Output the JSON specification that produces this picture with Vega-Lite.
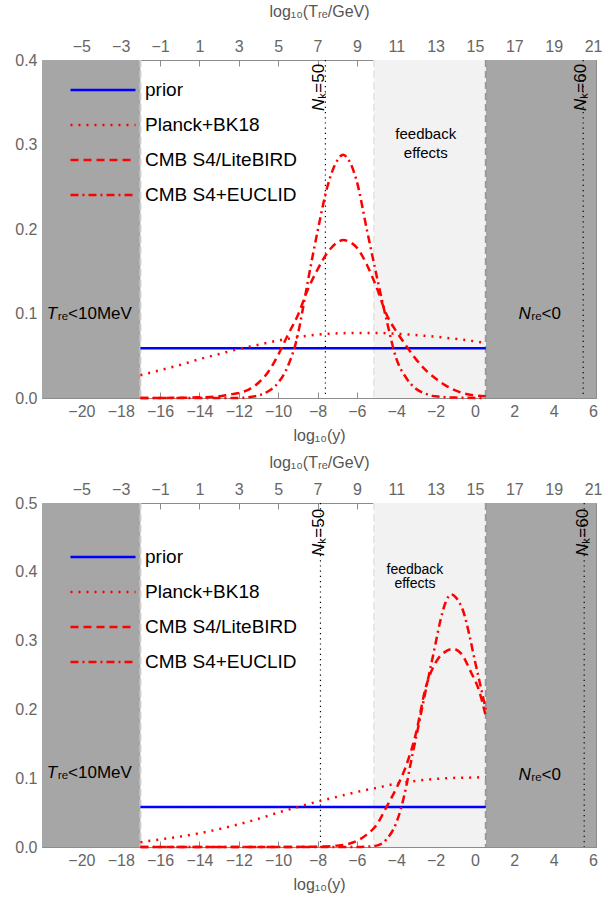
{
  "$schema": "https://vega.github.io/schema/vega-lite/v6.json",
  "padding": {"left": 14, "top": 2, "right": 0, "bottom": 0},
  "config": {
    "font": "Liberation Sans",
    "view": {"stroke": "#8c8c8c", "strokeWidth": 1},
    "axis": {"labelFont": "Liberation Sans", "labelFontSize": 16, "labelColor": "#666666", "titleFont": "Liberation Sans", "titleFontSize": 16, "titleColor": "#555555", "titleFontWeight": "normal", "domain": false, "tickColor": "#8c8c8c", "grid": false, "labelFlush": false, "labelOverlap": false},
    "legend": {"title": null, "symbolType": "stroke", "symbolSize": 4225, "symbolStrokeWidth": 2.5, "labelFontSize": 19, "labelFont": "Liberation Sans", "labelColor": "#000000", "labelOffset": 8, "rowPadding": 0, "clipHeight": 35, "padding": 0, "offset": 0}
  },
  "datasets": {
    "regions1": [{"k": "dark", "x": -22, "x2": -17}, {"k": "light", "x": -5.14, "x2": 0.55}, {"k": "dark", "x": 0.55, "x2": 6.15}],
    "bounds1": [{"k": "left", "x": -17}, {"k": "right", "x": 0.55}, {"k": "light", "x": -5.14}],
    "nk1": [{"x": -7.6}, {"x": 5.5}],
    "ax1": [{"T": -7, "p": 0}, {"T": 21.15, "p": 0.4}],
    "ann1": [
      {"k": "fb", "x": -2.5, "p": 0.312, "t": "feedback"},
      {"k": "fb", "x": -2.5, "p": 0.29, "t": "effects"}
    ],
    "lab1": [
      {"k": "region", "x": -21.23, "p": 0.0994, "a": "T", "b": "ᵣₑ<10MeV"},
      {"k": "region", "x": 2.83, "p": 0.0994, "a": "N", "b": "ᵣₑ<0"},
      {"k": "nk", "x": -7.93, "p": 0.3542, "a": "N", "b": "ₖ=50"},
      {"k": "nk", "x": 5.4, "p": 0.3542, "a": "N", "b": "ₖ=60"}
    ],
    "curves1": [
      {"s": "prior", "x": -17, "p": 0.0588}, {"s": "prior", "x": 0.55, "p": 0.0588},
      {"s": "Planck+BK18", "x": -17, "p": 0.027}, {"s": "Planck+BK18", "x": -16, "p": 0.033}, {"s": "Planck+BK18", "x": -15, "p": 0.039}, {"s": "Planck+BK18", "x": -14, "p": 0.046}, {"s": "Planck+BK18", "x": -13, "p": 0.052}, {"s": "Planck+BK18", "x": -12, "p": 0.058}, {"s": "Planck+BK18", "x": -11, "p": 0.063}, {"s": "Planck+BK18", "x": -10, "p": 0.068}, {"s": "Planck+BK18", "x": -9, "p": 0.072}, {"s": "Planck+BK18", "x": -8, "p": 0.075}, {"s": "Planck+BK18", "x": -7, "p": 0.0765}, {"s": "Planck+BK18", "x": -6, "p": 0.077}, {"s": "Planck+BK18", "x": -5, "p": 0.077}, {"s": "Planck+BK18", "x": -4, "p": 0.076}, {"s": "Planck+BK18", "x": -3, "p": 0.0745}, {"s": "Planck+BK18", "x": -2, "p": 0.0725}, {"s": "Planck+BK18", "x": -1, "p": 0.07}, {"s": "Planck+BK18", "x": 0, "p": 0.067}, {"s": "Planck+BK18", "x": 0.55, "p": 0.065},
      {"s": "CMB S4/LiteBIRD", "x": -17, "p": 0}, {"s": "CMB S4/LiteBIRD", "x": -15, "p": 0.0003}, {"s": "CMB S4/LiteBIRD", "x": -14, "p": 0.0008}, {"s": "CMB S4/LiteBIRD", "x": -13, "p": 0.002}, {"s": "CMB S4/LiteBIRD", "x": -12.5, "p": 0.004}, {"s": "CMB S4/LiteBIRD", "x": -12, "p": 0.006}, {"s": "CMB S4/LiteBIRD", "x": -11.5, "p": 0.01}, {"s": "CMB S4/LiteBIRD", "x": -11, "p": 0.018}, {"s": "CMB S4/LiteBIRD", "x": -10.5, "p": 0.031}, {"s": "CMB S4/LiteBIRD", "x": -10, "p": 0.051}, {"s": "CMB S4/LiteBIRD", "x": -9.5, "p": 0.075}, {"s": "CMB S4/LiteBIRD", "x": -9, "p": 0.098}, {"s": "CMB S4/LiteBIRD", "x": -8.5, "p": 0.128}, {"s": "CMB S4/LiteBIRD", "x": -8, "p": 0.152}, {"s": "CMB S4/LiteBIRD", "x": -7.5, "p": 0.172}, {"s": "CMB S4/LiteBIRD", "x": -7, "p": 0.184}, {"s": "CMB S4/LiteBIRD", "x": -6.7, "p": 0.187}, {"s": "CMB S4/LiteBIRD", "x": -6.4, "p": 0.185}, {"s": "CMB S4/LiteBIRD", "x": -6, "p": 0.178}, {"s": "CMB S4/LiteBIRD", "x": -5.5, "p": 0.158}, {"s": "CMB S4/LiteBIRD", "x": -5, "p": 0.131}, {"s": "CMB S4/LiteBIRD", "x": -4.5, "p": 0.099}, {"s": "CMB S4/LiteBIRD", "x": -4, "p": 0.079}, {"s": "CMB S4/LiteBIRD", "x": -3.5, "p": 0.062}, {"s": "CMB S4/LiteBIRD", "x": -3, "p": 0.046}, {"s": "CMB S4/LiteBIRD", "x": -2.5, "p": 0.033}, {"s": "CMB S4/LiteBIRD", "x": -2, "p": 0.023}, {"s": "CMB S4/LiteBIRD", "x": -1.5, "p": 0.015}, {"s": "CMB S4/LiteBIRD", "x": -1, "p": 0.009}, {"s": "CMB S4/LiteBIRD", "x": -0.5, "p": 0.005}, {"s": "CMB S4/LiteBIRD", "x": 0, "p": 0.003}, {"s": "CMB S4/LiteBIRD", "x": 0.55, "p": 0.002},
      {"s": "CMB S4+EUCLID", "x": -17, "p": 0}, {"s": "CMB S4+EUCLID", "x": -12, "p": 0}, {"s": "CMB S4+EUCLID", "x": -11.5, "p": 0.001}, {"s": "CMB S4+EUCLID", "x": -11, "p": 0.003}, {"s": "CMB S4+EUCLID", "x": -10.5, "p": 0.008}, {"s": "CMB S4+EUCLID", "x": -10, "p": 0.018}, {"s": "CMB S4+EUCLID", "x": -9.5, "p": 0.038}, {"s": "CMB S4+EUCLID", "x": -9, "p": 0.075}, {"s": "CMB S4+EUCLID", "x": -8.75, "p": 0.105}, {"s": "CMB S4+EUCLID", "x": -8.5, "p": 0.137}, {"s": "CMB S4+EUCLID", "x": -8, "p": 0.197}, {"s": "CMB S4+EUCLID", "x": -7.5, "p": 0.25}, {"s": "CMB S4+EUCLID", "x": -7, "p": 0.281}, {"s": "CMB S4+EUCLID", "x": -6.7, "p": 0.288}, {"s": "CMB S4+EUCLID", "x": -6.4, "p": 0.281}, {"s": "CMB S4+EUCLID", "x": -6, "p": 0.256}, {"s": "CMB S4+EUCLID", "x": -5.5, "p": 0.2}, {"s": "CMB S4+EUCLID", "x": -5, "p": 0.145}, {"s": "CMB S4+EUCLID", "x": -4.5, "p": 0.093}, {"s": "CMB S4+EUCLID", "x": -4, "p": 0.047}, {"s": "CMB S4+EUCLID", "x": -3.5, "p": 0.024}, {"s": "CMB S4+EUCLID", "x": -3, "p": 0.011}, {"s": "CMB S4+EUCLID", "x": -2.5, "p": 0.005}, {"s": "CMB S4+EUCLID", "x": -2, "p": 0.002}, {"s": "CMB S4+EUCLID", "x": -1, "p": 0.0005}, {"s": "CMB S4+EUCLID", "x": 0.55, "p": 0}
    ],
    "ax2": [{"T": -7, "p": 0}, {"T": 21.15, "p": 0.5}],
    "ann2": [
      {"k": "fb", "x": -3.05, "p": 0.403, "t": "feedback"},
      {"k": "fb", "x": -3.05, "p": 0.382, "t": "effects"}
    ],
    "lab2": [
      {"k": "region", "x": -21.23, "p": 0.107, "a": "T", "b": "ᵣₑ<10MeV"},
      {"k": "region", "x": 2.83, "p": 0.105, "a": "N", "b": "ᵣₑ<0"},
      {"k": "nk", "x": -7.93, "p": 0.4409, "a": "N", "b": "ₖ=50"},
      {"k": "nk", "x": 5.5, "p": 0.4409, "a": "N", "b": "ₖ=60"}
    ],
    "nk2": [{"x": -7.85}, {"x": 5.55}],
    "curves2": [
      {"s": "prior", "x": -17, "p": 0.058}, {"s": "prior", "x": 0.55, "p": 0.058},
      {"s": "Planck+BK18", "x": -17, "p": 0.007}, {"s": "Planck+BK18", "x": -16, "p": 0.011}, {"s": "Planck+BK18", "x": -15, "p": 0.015}, {"s": "Planck+BK18", "x": -14, "p": 0.02}, {"s": "Planck+BK18", "x": -13, "p": 0.026}, {"s": "Planck+BK18", "x": -12, "p": 0.033}, {"s": "Planck+BK18", "x": -11, "p": 0.041}, {"s": "Planck+BK18", "x": -10, "p": 0.05}, {"s": "Planck+BK18", "x": -9, "p": 0.058}, {"s": "Planck+BK18", "x": -8, "p": 0.066}, {"s": "Planck+BK18", "x": -7, "p": 0.073}, {"s": "Planck+BK18", "x": -6, "p": 0.08}, {"s": "Planck+BK18", "x": -5, "p": 0.086}, {"s": "Planck+BK18", "x": -4, "p": 0.092}, {"s": "Planck+BK18", "x": -3, "p": 0.096}, {"s": "Planck+BK18", "x": -2, "p": 0.099}, {"s": "Planck+BK18", "x": -1, "p": 0.1005}, {"s": "Planck+BK18", "x": 0, "p": 0.101}, {"s": "Planck+BK18", "x": 0.55, "p": 0.102},
      {"s": "CMB S4/LiteBIRD", "x": -17, "p": 0}, {"s": "CMB S4/LiteBIRD", "x": -10, "p": 0}, {"s": "CMB S4/LiteBIRD", "x": -8, "p": 0.0005}, {"s": "CMB S4/LiteBIRD", "x": -7, "p": 0.002}, {"s": "CMB S4/LiteBIRD", "x": -6.5, "p": 0.004}, {"s": "CMB S4/LiteBIRD", "x": -6, "p": 0.009}, {"s": "CMB S4/LiteBIRD", "x": -5.5, "p": 0.018}, {"s": "CMB S4/LiteBIRD", "x": -5, "p": 0.032}, {"s": "CMB S4/LiteBIRD", "x": -4.5, "p": 0.058}, {"s": "CMB S4/LiteBIRD", "x": -4, "p": 0.085}, {"s": "CMB S4/LiteBIRD", "x": -3.5, "p": 0.118}, {"s": "CMB S4/LiteBIRD", "x": -3, "p": 0.165}, {"s": "CMB S4/LiteBIRD", "x": -2.5, "p": 0.232}, {"s": "CMB S4/LiteBIRD", "x": -2, "p": 0.268}, {"s": "CMB S4/LiteBIRD", "x": -1.5, "p": 0.284}, {"s": "CMB S4/LiteBIRD", "x": -1.1, "p": 0.288}, {"s": "CMB S4/LiteBIRD", "x": -0.7, "p": 0.281}, {"s": "CMB S4/LiteBIRD", "x": -0.2, "p": 0.254}, {"s": "CMB S4/LiteBIRD", "x": 0.2, "p": 0.228}, {"s": "CMB S4/LiteBIRD", "x": 0.55, "p": 0.19},
      {"s": "CMB S4+EUCLID", "x": -17, "p": 0}, {"s": "CMB S4+EUCLID", "x": -6, "p": 0}, {"s": "CMB S4+EUCLID", "x": -5.5, "p": 0.0005}, {"s": "CMB S4+EUCLID", "x": -5, "p": 0.002}, {"s": "CMB S4+EUCLID", "x": -4.5, "p": 0.011}, {"s": "CMB S4+EUCLID", "x": -4, "p": 0.035}, {"s": "CMB S4+EUCLID", "x": -3.75, "p": 0.057}, {"s": "CMB S4+EUCLID", "x": -3.5, "p": 0.087}, {"s": "CMB S4+EUCLID", "x": -3.25, "p": 0.124}, {"s": "CMB S4+EUCLID", "x": -3, "p": 0.158}, {"s": "CMB S4+EUCLID", "x": -2.75, "p": 0.193}, {"s": "CMB S4+EUCLID", "x": -2.5, "p": 0.228}, {"s": "CMB S4+EUCLID", "x": -2.25, "p": 0.262}, {"s": "CMB S4+EUCLID", "x": -2, "p": 0.296}, {"s": "CMB S4+EUCLID", "x": -1.75, "p": 0.33}, {"s": "CMB S4+EUCLID", "x": -1.5, "p": 0.355}, {"s": "CMB S4+EUCLID", "x": -1.2, "p": 0.367}, {"s": "CMB S4+EUCLID", "x": -0.9, "p": 0.36}, {"s": "CMB S4+EUCLID", "x": -0.6, "p": 0.343}, {"s": "CMB S4+EUCLID", "x": -0.3, "p": 0.31}, {"s": "CMB S4+EUCLID", "x": 0, "p": 0.27}, {"s": "CMB S4+EUCLID", "x": 0.3, "p": 0.232}, {"s": "CMB S4+EUCLID", "x": 0.55, "p": 0.2}
    ]
  },
  "spacing": 9,
  "resolve": {"scale": {"x": "independent", "y": "independent", "color": "independent", "strokeDash": "independent"}, "legend": {"color": "independent", "strokeDash": "independent"}},
  "vconcat": [
    {
      "width": 554, "height": 338,
      "resolve": {"scale": {"x": "independent", "y": "independent"}},
      "layer": [
        {
          "layer": [
            {"data": {"name": "regions1"}, "transform": [{"filter": "datum.k == 'dark'"}], "mark": {"type": "rect", "color": "#a6a6a6"},
             "encoding": {"x": {"field": "x", "type": "quantitative", "scale": {"domain": [-22, 6.15], "nice": false, "zero": false}, "title": "log₁₀(y)",
               "axis": {"orient": "bottom", "values": [-20, -18, -16, -14, -12, -10, -8, -6, -4, -2, 0, 2, 4, 6], "format": "d", "tickSize": -6, "labelPadding": 11, "titlePadding": 8, "labelOverlap": false}},
               "x2": {"field": "x2"}}},
            {"data": {"name": "regions1"}, "transform": [{"filter": "datum.k == 'light'"}], "mark": {"type": "rect", "color": "#f2f2f2"},
             "encoding": {"x": {"field": "x", "type": "quantitative", "title": "log₁₀(y)"}, "x2": {"field": "x2"}}},
            {"data": {"name": "bounds1"}, "transform": [{"filter": "datum.k == 'left'"}], "mark": {"type": "rule", "color": "#cccccc", "strokeWidth": 2, "strokeDash": [7, 4]},
             "encoding": {"x": {"field": "x", "type": "quantitative", "title": "log₁₀(y)"}}},
            {"data": {"name": "bounds1"}, "transform": [{"filter": "datum.k == 'right'"}], "mark": {"type": "rule", "color": "#999999", "strokeWidth": 2, "strokeDash": [7, 4]},
             "encoding": {"x": {"field": "x", "type": "quantitative", "title": "log₁₀(y)"}}},
            {"data": {"name": "bounds1"}, "transform": [{"filter": "datum.k == 'light'"}], "mark": {"type": "rule", "color": "#e4e4e4", "strokeWidth": 1.5, "strokeDash": [7, 4]},
             "encoding": {"x": {"field": "x", "type": "quantitative", "title": "log₁₀(y)"}}},
            {"data": {"name": "nk1"}, "mark": {"type": "rule", "color": "#000000", "strokeWidth": 1.2, "strokeDash": [1.2, 4]},
             "encoding": {"x": {"field": "x", "type": "quantitative", "title": "log₁₀(y)"}}},
            {"data": {"name": "curves1"}, "mark": {"type": "line", "strokeWidth": 2.5, "interpolate": "monotone"},
             "encoding": {
               "x": {"field": "x", "type": "quantitative", "title": "log₁₀(y)"},
               "y": {"field": "p", "type": "quantitative", "scale": {"domain": [0, 0.4], "nice": false, "zero": true},
                 "axis": {"orient": "left", "title": null, "values": [0, 0.1, 0.2, 0.3, 0.4], "format": ".1f", "labelOverlap": false, "tickSize": -7, "labelPadding": 12}},
               "color": {"field": "s", "type": "nominal", "scale": {"domain": ["prior", "Planck+BK18", "CMB S4/LiteBIRD", "CMB S4+EUCLID"], "range": ["#0000ff", "#ff0000", "#ff0000", "#ff0000"]},
                 "legend": {"orient": "none", "legendX": 27, "legendY": 12.5}},
               "strokeDash": {"field": "s", "type": "nominal", "scale": {"domain": ["prior", "Planck+BK18", "CMB S4/LiteBIRD", "CMB S4+EUCLID"], "range": [[1, 0], [2, 6], [8, 5], [8, 4, 2, 4]]},
                 "legend": {"orient": "none", "legendX": 27, "legendY": 12.5}}
             }},
            {"data": {"name": "ann1"}, "transform": [{"filter": "datum.k == 'fb'"}], "mark": {"type": "text", "fontSize": 15, "color": "#000000", "align": "center", "baseline": "middle"},
             "encoding": {"x": {"field": "x", "type": "quantitative", "title": "log₁₀(y)"}, "y": {"field": "p", "type": "quantitative"}, "text": {"field": "t"}}},
            {"data": {"name": "lab1"}, "transform": [{"filter": "datum.k == 'region'"}], "mark": {"type": "text", "fontSize": 17, "fontStyle": "italic", "color": "#000000", "align": "right", "baseline": "middle"},
             "encoding": {"x": {"field": "x", "type": "quantitative", "title": "log₁₀(y)"}, "y": {"field": "p", "type": "quantitative"}, "text": {"field": "a"}}},
            {"data": {"name": "lab1"}, "transform": [{"filter": "datum.k == 'region'"}], "mark": {"type": "text", "fontSize": 17, "color": "#000000", "align": "left", "baseline": "middle", "dx": 0.5},
             "encoding": {"x": {"field": "x", "type": "quantitative", "title": "log₁₀(y)"}, "y": {"field": "p", "type": "quantitative"}, "text": {"field": "b"}}},
            {"data": {"name": "lab1"}, "transform": [{"filter": "datum.k == 'nk'"}], "mark": {"type": "text", "fontSize": 17, "fontStyle": "italic", "color": "#000000", "align": "right", "baseline": "middle", "angle": 270},
             "encoding": {"x": {"field": "x", "type": "quantitative", "title": "log₁₀(y)"}, "y": {"field": "p", "type": "quantitative"}, "text": {"field": "a"}}},
            {"data": {"name": "lab1"}, "transform": [{"filter": "datum.k == 'nk'"}], "mark": {"type": "text", "fontSize": 17, "color": "#000000", "align": "left", "baseline": "middle", "angle": 270},
             "encoding": {"x": {"field": "x", "type": "quantitative", "title": "log₁₀(y)"}, "y": {"field": "p", "type": "quantitative"}, "text": {"field": "b"}}}
          ]
        },
        {
          "data": {"name": "ax1"},
          "mark": {"type": "point", "opacity": 0},
          "encoding": {
            "x": {"field": "T", "type": "quantitative", "scale": {"domain": [-7, 21.15], "nice": false, "zero": false},
              "axis": {"orient": "top", "title": "log₁₀(Tᵣₑ/GeV)", "values": [-5, -3, -1, 1, 3, 5, 7, 9, 11, 13, 15, 17, 19, 21], "format": "d", "tickSize": -6, "labelPadding": 12, "titlePadding": 19, "labelOverlap": false}},
            "y": {"field": "p", "type": "quantitative", "scale": {"domain": [0, 0.4], "nice": false},
              "axis": {"orient": "right", "title": null, "labels": false, "values": [0, 0.02, 0.04, 0.06, 0.08, 0.1, 0.12, 0.14, 0.16, 0.18, 0.2, 0.22, 0.24, 0.26, 0.28, 0.3, 0.32, 0.34, 0.36, 0.38, 0.4],
                "tickSize": {"condition": {"test": "abs(datum.value*10 - round(datum.value*10)) < 1e-6", "value": -7}, "value": -4}}}
          }
        },
        {
          "data": {"name": "ax1"},
          "mark": {"type": "point", "opacity": 0},
          "encoding": {
            "y": {"field": "p", "type": "quantitative", "scale": {"domain": [0, 0.4], "nice": false},
              "axis": {"orient": "left", "title": null, "labels": false, "values": [0.02, 0.04, 0.06, 0.08, 0.12, 0.14, 0.16, 0.18, 0.22, 0.24, 0.26, 0.28, 0.32, 0.34, 0.36, 0.38], "tickSize": -4}}
          }
        }
      ]
    },
    {
      "width": 554, "height": 344,
      "resolve": {"scale": {"x": "independent", "y": "independent"}},
      "layer": [
        {
          "layer": [
            {"data": {"name": "regions1"}, "transform": [{"filter": "datum.k == 'dark'"}], "mark": {"type": "rect", "color": "#a6a6a6"},
             "encoding": {"x": {"field": "x", "type": "quantitative", "scale": {"domain": [-22, 6.15], "nice": false, "zero": false}, "title": "log₁₀(y)",
               "axis": {"orient": "bottom", "values": [-20, -18, -16, -14, -12, -10, -8, -6, -4, -2, 0, 2, 4, 6], "format": "d", "tickSize": -6, "labelPadding": 11, "titlePadding": 8, "labelOverlap": false}},
               "x2": {"field": "x2"}}},
            {"data": {"name": "regions1"}, "transform": [{"filter": "datum.k == 'light'"}], "mark": {"type": "rect", "color": "#f2f2f2"},
             "encoding": {"x": {"field": "x", "type": "quantitative", "title": "log₁₀(y)"}, "x2": {"field": "x2"}}},
            {"data": {"name": "bounds1"}, "transform": [{"filter": "datum.k == 'left'"}], "mark": {"type": "rule", "color": "#cccccc", "strokeWidth": 2, "strokeDash": [7, 4]},
             "encoding": {"x": {"field": "x", "type": "quantitative", "title": "log₁₀(y)"}}},
            {"data": {"name": "bounds1"}, "transform": [{"filter": "datum.k == 'right'"}], "mark": {"type": "rule", "color": "#999999", "strokeWidth": 2, "strokeDash": [7, 4]},
             "encoding": {"x": {"field": "x", "type": "quantitative", "title": "log₁₀(y)"}}},
            {"data": {"name": "bounds1"}, "transform": [{"filter": "datum.k == 'light'"}], "mark": {"type": "rule", "color": "#e4e4e4", "strokeWidth": 1.5, "strokeDash": [7, 4]},
             "encoding": {"x": {"field": "x", "type": "quantitative", "title": "log₁₀(y)"}}},
            {"data": {"name": "nk2"}, "mark": {"type": "rule", "color": "#000000", "strokeWidth": 1.2, "strokeDash": [1.2, 4]},
             "encoding": {"x": {"field": "x", "type": "quantitative", "title": "log₁₀(y)"}}},
            {"data": {"name": "curves2"}, "mark": {"type": "line", "strokeWidth": 2.5, "interpolate": "monotone"},
             "encoding": {
               "x": {"field": "x", "type": "quantitative", "title": "log₁₀(y)"},
               "y": {"field": "p", "type": "quantitative", "scale": {"domain": [0, 0.5], "nice": false, "zero": true},
                 "axis": {"orient": "left", "title": null, "values": [0, 0.1, 0.2, 0.3, 0.4, 0.5], "format": ".1f", "labelOverlap": false, "tickSize": -7, "labelPadding": 12}},
               "color": {"field": "s", "type": "nominal", "scale": {"domain": ["prior", "Planck+BK18", "CMB S4/LiteBIRD", "CMB S4+EUCLID"], "range": ["#0000ff", "#ff0000", "#ff0000", "#ff0000"]},
                 "legend": {"orient": "none", "legendX": 27, "legendY": 36.5}},
               "strokeDash": {"field": "s", "type": "nominal", "scale": {"domain": ["prior", "Planck+BK18", "CMB S4/LiteBIRD", "CMB S4+EUCLID"], "range": [[1, 0], [2, 6], [8, 5], [8, 4, 2, 4]]},
                 "legend": {"orient": "none", "legendX": 27, "legendY": 36.5}}
             }},
            {"data": {"name": "ann2"}, "transform": [{"filter": "datum.k == 'fb'"}], "mark": {"type": "text", "fontSize": 14, "color": "#000000", "align": "center", "baseline": "middle"},
             "encoding": {"x": {"field": "x", "type": "quantitative", "title": "log₁₀(y)"}, "y": {"field": "p", "type": "quantitative"}, "text": {"field": "t"}}},
            {"data": {"name": "lab2"}, "transform": [{"filter": "datum.k == 'region'"}], "mark": {"type": "text", "fontSize": 17, "fontStyle": "italic", "color": "#000000", "align": "right", "baseline": "middle"},
             "encoding": {"x": {"field": "x", "type": "quantitative", "title": "log₁₀(y)"}, "y": {"field": "p", "type": "quantitative"}, "text": {"field": "a"}}},
            {"data": {"name": "lab2"}, "transform": [{"filter": "datum.k == 'region'"}], "mark": {"type": "text", "fontSize": 17, "color": "#000000", "align": "left", "baseline": "middle", "dx": 0.5},
             "encoding": {"x": {"field": "x", "type": "quantitative", "title": "log₁₀(y)"}, "y": {"field": "p", "type": "quantitative"}, "text": {"field": "b"}}},
            {"data": {"name": "lab2"}, "transform": [{"filter": "datum.k == 'nk'"}], "mark": {"type": "text", "fontSize": 17, "fontStyle": "italic", "color": "#000000", "align": "right", "baseline": "middle", "angle": 270},
             "encoding": {"x": {"field": "x", "type": "quantitative", "title": "log₁₀(y)"}, "y": {"field": "p", "type": "quantitative"}, "text": {"field": "a"}}},
            {"data": {"name": "lab2"}, "transform": [{"filter": "datum.k == 'nk'"}], "mark": {"type": "text", "fontSize": 17, "color": "#000000", "align": "left", "baseline": "middle", "angle": 270},
             "encoding": {"x": {"field": "x", "type": "quantitative", "title": "log₁₀(y)"}, "y": {"field": "p", "type": "quantitative"}, "text": {"field": "b"}}}
          ]
        },
        {
          "data": {"name": "ax2"},
          "mark": {"type": "point", "opacity": 0},
          "encoding": {
            "x": {"field": "T", "type": "quantitative", "scale": {"domain": [-7, 21.15], "nice": false, "zero": false},
              "axis": {"orient": "top", "title": "log₁₀(Tᵣₑ/GeV)", "values": [-5, -3, -1, 1, 3, 5, 7, 9, 11, 13, 15, 17, 19, 21], "format": "d", "tickSize": -6, "labelPadding": 12, "titlePadding": 11, "labelOverlap": false}},
            "y": {"field": "p", "type": "quantitative", "scale": {"domain": [0, 0.5], "nice": false},
              "axis": {"orient": "right", "title": null, "labels": false, "values": [0, 0.02, 0.04, 0.06, 0.08, 0.1, 0.12, 0.14, 0.16, 0.18, 0.2, 0.22, 0.24, 0.26, 0.28, 0.3, 0.32, 0.34, 0.36, 0.38, 0.4, 0.42, 0.44, 0.46, 0.48, 0.5],
                "tickSize": {"condition": {"test": "abs(datum.value*10 - round(datum.value*10)) < 1e-6", "value": -7}, "value": -4}}}
          }
        },
        {
          "data": {"name": "ax2"},
          "mark": {"type": "point", "opacity": 0},
          "encoding": {
            "y": {"field": "p", "type": "quantitative", "scale": {"domain": [0, 0.5], "nice": false},
              "axis": {"orient": "left", "title": null, "labels": false, "values": [0.02, 0.04, 0.06, 0.08, 0.12, 0.14, 0.16, 0.18, 0.22, 0.24, 0.26, 0.28, 0.32, 0.34, 0.36, 0.38, 0.42, 0.44, 0.46, 0.48], "tickSize": -4}}
          }
        }
      ]
    }
  ]
}
